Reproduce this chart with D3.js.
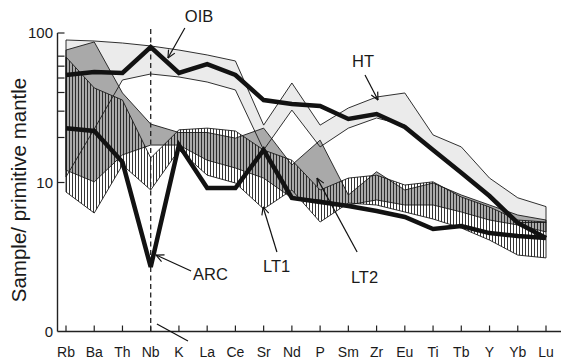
<!DOCTYPE html>
<html>
<head>
<meta charset="utf-8">
<script src="https://cdn.jsdelivr.net/npm/d3@7"></script>
<style>
  html, body { margin: 0; padding: 0; background: #fff; }
  svg { display: block; font-family: "Liberation Sans", Arial, Helvetica, sans-serif; }
</style>
</head>
<body>
<svg id="chart" width="561" height="362"></svg>
<script>
// Elements in spider-diagram order
const elements = ["Rb","Ba","Th","Nb","K","La","Ce","Sr","Nd","P","Sm","Zr","Eu","Ti","Tb","Y","Yb","Lu"];

// HT field (light grey)
const htUpper = [89.8, 88.4, 85.7, 81.9, 76.9, 71.3, 65.0, 24.2, 46.3, 24.2, 31.5, 37.3, 39.7, 20.8, 17.3, 10.7, 7.9, 6.9];
const htLower = [10.9, 22.8, 48.5, 53.2, 50.8, 47.0, 41.6, 16.5, 30.5, 17.3, 23.1, 27.0, 24.2, 16.5, 11.6, 7.9, 5.4, 5.4];

// LT2 field (mid grey)
const lt2Upper = [76.9, 87.1, 39.7, 24.6, 21.6, 21.6, 19.8, 23.1, 13.1, 19.2, 8.25, 11.8, 8.91, 9.92, 8.25, 7.07, 6.06, 5.61];
const lt2Lower = [12.1, 10.1, 15.3, 17.8, 17.8, 14.1, 12.5, 10.7, 7.88, 7.64, 7.07, 7.64, 7.07, 7.07, 6.35, 5.61, 5.20, 4.67];

// LT1 field (vertical hatching)
const lt1Upper = [69.1, 42.9, 35.6, 14.6, 22.5, 23.1, 22.1, 16.5, 14.1, 8.91, 10.7, 11.2, 9.62, 10.1, 8.0, 6.86, 5.61, 5.44];
const lt1Lower = [8.64, 6.25, 13.1, 8.91, 16.5, 11.2, 9.92, 6.65, 8.91, 5.44, 7.29, 7.07, 6.35, 5.70, 4.96, 4.12, 3.27, 3.13];

// Average patterns (thick lines)
const oib = [52.4, 54.8, 54.0, 80.6, 54.0, 62.0, 52.4, 35.6, 33.5, 32.5, 26.6, 28.7, 23.5, 16.5, 11.6, 8.12, 5.36, 4.25];
const arc = [23.1, 22.1, 13.7, 2.72, 17.8, 9.19, 9.19, 16.5, 7.88, 7.41, 6.96, 6.45, 5.88, 4.89, 5.12, 4.59, 4.39, 4.25];

// Y-axis tick labels
const yMajor = [100, 10, 1];
const yMajorLabels = ["100", "10", "0"];
const yMinor = [20, 30, 40, 50, 60, 70];

// Annotations: position along the element index, value on the y scale
const labels = [
  { text: "OIB", i: 4.21, v: 118.5 },
  { text: "HT",  i: 10.13, v: 59.2 },
  { text: "ARC", i: 4.50, v: 2.23 },
  { text: "LT1", i: 6.98, v: 2.52 },
  { text: "LT2", i: 10.09, v: 2.13 }
];
const arrows = [
  { i0: 4.21, v0: 108, i1: 3.61, v1: 68 },
  { i0: 10.59, v0: 52.4, i1: 11.05, v1: 35.6 },
  { i0: 4.43, v0: 2.56, i1: 3.19, v1: 3.27 },
  { i0: 7.47, v0: 3.43, i1: 6.98, v1: 6.86 },
  { i0: 10.31, v0: 3.43, i1: 8.89, v1: 10.7 }
];
const strayLine = { i0: 3.22, v0: 1.131, i1: 4.32, v1: 0.87 };

const svg = d3.select("#chart");
const axisX0 = 57.5, axisY = 331.5, axisRight = 561;

const x = d3.scalePoint().domain(elements).range([66, 546]);
const xi = d3.scaleLinear().domain([0, elements.length - 1]).range([66, 546]);
const y = d3.scaleLog().domain([1, 100]).range([332, 33]);

const defs = svg.append("defs");
const pat = defs.append("pattern")
  .attr("id", "vhatch").attr("patternUnits", "userSpaceOnUse")
  .attr("width", 3).attr("height", 6);
pat.append("line").attr("x1", 0.5).attr("x2", 0.5).attr("y1", 0).attr("y2", 6)
  .attr("stroke", "#1e1e1e").attr("stroke-width", 0.9);

defs.append("marker").attr("id", "head")
  .attr("viewBox", "0 0 10 10").attr("refX", 9.5).attr("refY", 5)
  .attr("markerWidth", 9).attr("markerHeight", 9).attr("markerUnits", "userSpaceOnUse")
  .attr("orient", "auto")
  .append("path").attr("d", "M1,1 L9.5,5 L1,9").attr("fill", "none")
  .attr("stroke", "#111").attr("stroke-width", 1.3);

function band(upper, lower) {
  return d3.area()
    .x((d, i) => x(elements[i]))
    .y1((d, i) => y(upper[i]))
    .y0((d, i) => y(lower[i]))(elements);
}
const line = d3.line().x((d, i) => x(elements[i])).y(d => y(d));

const fields = [
  { up: htUpper, lo: htLower, fill: "#ebebeb" },
  { up: lt2Upper, lo: lt2Lower, fill: "#a9a9a9" },
  { up: lt1Upper, lo: lt1Lower, fill: "url(#vhatch)" }
];

const gFields = svg.append("g");
fields.forEach(f => {
  gFields.append("path").attr("d", band(f.up, f.lo)).attr("fill", f.fill).attr("stroke", "none");
});
fields.forEach(f => {
  gFields.append("path").attr("d", band(f.up, f.lo)).attr("fill", "none")
    .attr("stroke", "#1a1a1a").attr("stroke-width", 0.9).attr("stroke-linejoin", "miter");
});

// Nb reference line
svg.append("line")
  .attr("x1", x("Nb")).attr("x2", x("Nb"))
  .attr("y1", 29).attr("y2", axisY)
  .attr("stroke", "#222").attr("stroke-width", 1.3).attr("stroke-dasharray", "5,3.5");

// Average patterns
[oib, arc].forEach(s => {
  svg.append("path").attr("d", line(s)).attr("fill", "none")
    .attr("stroke", "#121212").attr("stroke-width", 4.5).attr("stroke-linejoin", "miter")
    .attr("stroke-miterlimit", 3);
});

// Axes
const gAxis = svg.append("g").attr("stroke", "#222").attr("stroke-width", 1.4);
gAxis.append("line").attr("x1", axisX0).attr("x2", axisX0).attr("y1", 33).attr("y2", axisY);
gAxis.append("line").attr("x1", axisX0).attr("x2", axisRight).attr("y1", axisY).attr("y2", axisY);
yMajor.concat(yMinor).filter(v => v > 1).forEach(v => {
  gAxis.append("line").attr("x1", axisX0).attr("x2", axisX0 + 7)
    .attr("y1", y(v)).attr("y2", y(v)).attr("stroke-width", 1.2);
});
elements.forEach(e => {
  gAxis.append("line").attr("x1", x(e)).attr("x2", x(e))
    .attr("y1", axisY).attr("y2", axisY - 6).attr("stroke-width", 1.2);
});

const gText = svg.append("g").attr("fill", "#1a1a1a");
yMajor.forEach((v, k) => {
  gText.append("text").attr("x", 53).attr("y", Math.min(y(v), axisY) + 5.3)
    .attr("text-anchor", "end").attr("font-size", 15).text(yMajorLabels[k]);
});
elements.forEach(e => {
  gText.append("text").attr("x", x(e)).attr("y", 357)
    .attr("text-anchor", "middle").attr("font-size", 14).text(e);
});
gText.append("text")
  .attr("transform", "translate(26,190) rotate(-90)")
  .attr("text-anchor", "middle").attr("font-size", 20.5)
  .text("Sample/ primitive mantle");

// Field and pattern labels with leader arrows
labels.forEach(l => {
  gText.append("text").attr("x", xi(l.i)).attr("y", y(l.v))
    .attr("font-size", 16.5).text(l.text);
});
arrows.forEach(a => {
  svg.append("line")
    .attr("x1", xi(a.i0)).attr("y1", y(a.v0))
    .attr("x2", xi(a.i1)).attr("y2", y(a.v1))
    .attr("stroke", "#111").attr("stroke-width", 1.2)
    .attr("marker-end", "url(#head)");
});
svg.append("line")
  .attr("x1", xi(strayLine.i0)).attr("y1", y(strayLine.v0))
  .attr("x2", xi(strayLine.i1)).attr("y2", y(strayLine.v1))
  .attr("stroke", "#111").attr("stroke-width", 1.2);
</script>
</body>
</html>
